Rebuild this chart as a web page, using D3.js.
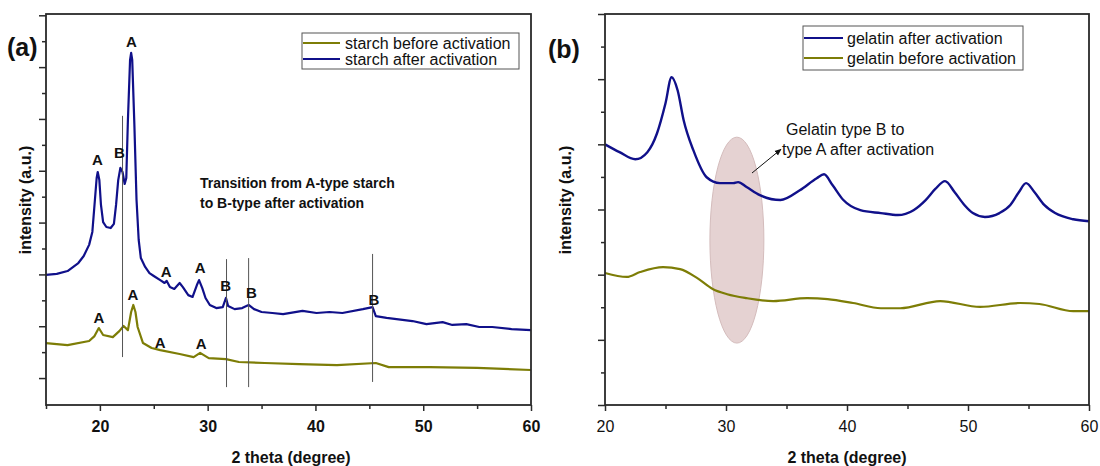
<!DOCTYPE html>
<html><head><meta charset="utf-8">
<script src="https://cdn.jsdelivr.net/npm/d3@7"></script>
<style>
html,body{margin:0;padding:0;background:#fff;}
svg text{font-family:"Liberation Sans",Arial,sans-serif;}
</style></head>
<body><svg id="c" width="1100" height="466"></svg>
<script>
// ---------- DATA ----------
// Panel (a): starch XRD
const starchAfterTheta = [15,16,17,18,18.5,19,19.3,19.5,19.7,19.8,19.95,20.1,20.3,20.6,21,21.3,21.5,21.7,21.9,22.1,22.3,22.45,22.6,22.8,22.9,23,23.2,23.4,23.6,23.8,24.2,24.6,25,25.6,26,26.2,26.5,26.9,27.4,27.7,28.2,28.6,29,29.2,29.5,29.8,30.2,30.8,31.4,31.7,31.9,32.5,33.2,33.8,34.3,35,36,37,38.8,40.1,41.3,42.5,44.4,45.3,45.6,46.6,49,50.3,51.8,52.7,54,55.2,56.4,58.2,60];
const starchAfterI = [398,402,413,444,471,514,564,668,772,795,764,668,602,583,579,595,668,764,811,795,749,772,996,1228,1255,1228,977,687,533,463,429,405,394,378,367,375,351,344,367,351,320,313,359,378,347,309,282,270,274,309,278,266,270,282,266,255,251,247,259,251,255,251,266,274,239,232,220,208,216,205,208,197,197,189,185];
const starchBeforeTheta = [15,17,19,19.5,19.9,20.3,21.2,21.8,22.2,22.6,22.9,23.1,23.3,23.5,24,24.8,25.6,27.4,28.7,29.3,30.1,31.7,32.9,35.3,38.5,42,45.6,46.8,50.6,55,60];
const starchBeforeI = [135,127,143,162,193,166,158,181,201,185,255,282,255,197,135,116,108,93,81,97,77,73,62,58,54,50,58,42,42,39,31];
const starchSeries = ["starch before activation","starch after activation"];
const refLineTheta = [22.1,31.75,33.8,45.3];
const refLineTop = [1012,459,463,479];
const refLineBottom = [81,-35,-35,-15];
const peakText = ["A","B","A","A","A","B","B","B","A","A","A","A"];
const peakTheta = [19.77,21.81,22.92,26.16,29.31,31.67,34.07,45.42,19.91,23.06,25.6,29.4];
const peakI = [822,849,1278,390,405,336,309,282,212,301,116,112];
const starchNote = ["Transition from A-type starch","to B-type after activation"];

// Panel (b): gelatin XRD
const gelAfterTheta = [20,21.2,22.5,23.5,24.3,25,25.5,26,26.5,27.3,28.4,29.5,30.6,31,31.7,32.8,34.5,36.1,37.5,38.1,38.8,39.7,41.1,42.8,44.2,45.5,46.5,47.3,48.1,48.9,49.7,50.4,51.4,52.6,53.5,54.2,54.8,55.5,56.3,57.2,58.7,60];
const gelAfterI = [800,776,754,776,834,926,1006,966,874,782,699,681,681,684,669,644,629,659,696,708,675,629,598,589,583,598,629,663,687,653,614,589,577,589,614,653,681,653,614,589,570,564];
const gelBeforeTheta = [20,21.8,22.9,24.8,26.2,27.6,28.9,30.1,31.7,33.9,36.7,38.4,40.5,42.8,44.4,47.7,51,54.3,55.9,58.7,60];
const gelBeforeI = [405,393,408,423,417,390,356,340,328,319,328,325,313,297,297,319,301,313,310,288,288];
const gelSeries = ["gelatin after activation","gelatin before activation"];
const gelNote = ["Gelatin type B to","type A after activation"];

const xTickLabels = [20,30,40,50,60];

// ---------- DRAW ----------
const BLUE = "#10108a", OLIVE = "#7d7d06", FRAME = "#2a2a2a";
const svg = d3.select("#c");

function frame(g, x, y, bold, minorX) {
  const [x0,x1] = x.range(), [y0,y1] = y.range();
  const ax = d3.axisBottom(x).tickValues(xTickLabels).tickSize(6).tickFormat(d3.format("d"));
  const gx = g.append("g").attr("transform",`translate(0,${y0})`).call(ax);
  gx.select(".domain").remove();
  gx.selectAll("line").attr("stroke",FRAME).attr("stroke-width",1.5);
  gx.selectAll("text").attr("font-size",16).attr("font-weight",bold?"bold":"normal").attr("fill","#111").attr("dy","1.15em").attr("font-family","Liberation Sans, Arial, sans-serif");
  const gxm = g.append("g").attr("transform",`translate(0,${y0})`).call(d3.axisBottom(x).tickValues(minorX).tickSize(4).tickFormat(""));
  gxm.select(".domain").remove();
  gxm.selectAll("line").attr("stroke",FRAME).attr("stroke-width",1.5);
}
function yTicks(g, x, y, major, minor) {
  const x0 = x.range()[0];
  const a = g.append("g").attr("transform",`translate(${x0},0)`).call(d3.axisLeft(y).tickValues(major).tickSize(7).tickFormat(""));
  a.select(".domain").remove();
  a.selectAll("line").attr("stroke",FRAME).attr("stroke-width",1.5);
  const b = g.append("g").attr("transform",`translate(${x0},0)`).call(d3.axisLeft(y).tickValues(minor).tickSize(4).tickFormat(""));
  b.select(".domain").remove();
  b.selectAll("line").attr("stroke",FRAME).attr("stroke-width",1.5);
}
function box(g, x, y) {
  const [x0,x1] = x.range(), [y0,y1] = y.range();
  g.append("rect").attr("x",x0).attr("y",y1).attr("width",x1-x0).attr("height",y0-y1)
    .attr("fill","none").attr("stroke",FRAME).attr("stroke-width",1.8);
}

// ----- Panel A -----
const xa = d3.scaleLinear().domain([15,60]).range([46,531]);
const ya = d3.scaleLinear().domain([-104,1405]).range([405,14]);
const ga = svg.append("g");
const lineA = (th, I) => d3.line().x((d,i)=>xa(th[i])).y((d,i)=>ya(I[i]))(I);

ga.append("path").attr("d",lineA(starchBeforeTheta,starchBeforeI)).attr("fill","none").attr("stroke",OLIVE).attr("stroke-width",2.2).attr("stroke-linejoin","round");
ga.append("path").attr("d",lineA(starchAfterTheta,starchAfterI)).attr("fill","none").attr("stroke",BLUE).attr("stroke-width",2.2).attr("stroke-linejoin","round");

refLineTheta.forEach((t,i)=>{
  ga.append("line").attr("x1",xa(t)).attr("x2",xa(t)).attr("y1",ya(refLineTop[i])).attr("y2",ya(refLineBottom[i]))
    .attr("stroke","#555").attr("stroke-width",1);
});
peakText.forEach((t,i)=>{
  ga.append("text").attr("x",xa(peakTheta[i])).attr("y",ya(peakI[i])).attr("text-anchor","middle")
    .attr("font-size",15).attr("font-weight","bold").attr("fill","#111").text(t);
});
starchNote.forEach((t,i)=>{
  ga.append("text").attr("x",200).attr("y",188+i*20).attr("font-size",14).attr("font-weight","bold").attr("fill","#111").text(t);
});

frame(ga, xa, ya, true, [15,25,35,45,55]);
yTicks(ga, xa, ya, d3.range(0,1401,200), d3.range(100,1301,200));
box(ga, xa, ya);

// legend a
const la = ga.append("g");
la.append("rect").attr("x",302).attr("y",33).attr("width",217).attr("height",36).attr("fill","#fff").attr("stroke","#555").attr("stroke-width",1);
[OLIVE,BLUE].forEach((c,i)=>{
  la.append("line").attr("x1",303).attr("x2",340).attr("y1",43+i*16).attr("y2",43+i*16).attr("stroke",c).attr("stroke-width",2);
  la.append("text").attr("x",345).attr("y",43+i*16).attr("dy","0.36em").attr("font-size",16).attr("fill","#111").text(starchSeries[i]);
});

ga.append("text").attr("x",7).attr("y",56).attr("font-size",25).attr("font-weight","bold").attr("fill","#111").text("(a)");
ga.append("text").attr("transform","translate(31,200) rotate(-90)").attr("text-anchor","middle").attr("font-size",16).attr("font-weight","bold").attr("fill","#111").text("intensity (a.u.)");
ga.append("text").attr("x",291).attr("y",463).attr("text-anchor","middle").attr("font-size",16).attr("font-weight","bold").attr("fill","#111").text("2 theta (degree)");

// ----- Panel B -----
const xb = d3.scaleLinear().domain([20,60]).range([605,1089]);
const yb = d3.scaleLinear().domain([0,1200]).range([405,14]);
const gb = svg.append("g");
const lineB = (th, I) => d3.line().curve(d3.curveMonotoneX).x((d,i)=>xb(th[i])).y((d,i)=>yb(I[i]))(I);

// ellipse highlight
gb.append("ellipse").attr("cx",xb(30.9)).attr("cy",yb(506)).attr("rx",xb(30.9)-xb(28.67)).attr("ry",yb(190)-yb(506))
  .attr("fill","#e5d2d2").attr("stroke","#d4bcbc").attr("stroke-width",1);

gb.append("path").attr("d",lineB(gelBeforeTheta,gelBeforeI)).attr("fill","none").attr("stroke",OLIVE).attr("stroke-width",2.2);
gb.append("path").attr("d",lineB(gelAfterTheta,gelAfterI)).attr("fill","none").attr("stroke",BLUE).attr("stroke-width",2.4);

// arrow
const defs = svg.append("defs");
defs.append("marker").attr("id","ah").attr("viewBox","0 0 10 10").attr("refX",9).attr("refY",5)
  .attr("markerWidth",7).attr("markerHeight",7).attr("orient","auto")
  .append("path").attr("d","M0,1 L10,5 L0,9 Z").attr("fill","#111");
gb.append("line").attr("x1",xb(32.15)).attr("y1",yb(712)).attr("x2",xb(34.55)).attr("y2",yb(785))
  .attr("stroke","#111").attr("stroke-width",1).attr("marker-end","url(#ah)");
gelNote.forEach((t,i)=>{
  gb.append("text").attr("x",i===0?786:782).attr("y",135+i*20).attr("font-size",16).attr("fill","#111").text(t);
});

frame(gb, xb, yb, false, [25,35,45,55]);
yTicks(gb, xb, yb, d3.range(0,1201,200), d3.range(100,1101,200));
box(gb, xb, yb);

// legend b
const lb = gb.append("g");
lb.append("rect").attr("x",803).attr("y",26).attr("width",220).attr("height",44).attr("fill","#fff").attr("stroke","#555").attr("stroke-width",1);
[BLUE,OLIVE].forEach((c,i)=>{
  lb.append("line").attr("x1",804).attr("x2",843).attr("y1",38+i*20).attr("y2",38+i*20).attr("stroke",c).attr("stroke-width",2);
  lb.append("text").attr("x",847).attr("y",38+i*20).attr("dy","0.36em").attr("font-size",16).attr("fill","#111").text(gelSeries[i]);
});

gb.append("text").attr("x",548).attr("y",58).attr("font-size",25).attr("font-weight","bold").attr("fill","#111").text("(b)");
gb.append("text").attr("transform","translate(571,200) rotate(-90)").attr("text-anchor","middle").attr("font-size",16).attr("font-weight","bold").attr("fill","#111").text("intensity (a.u.)");
gb.append("text").attr("x",847).attr("y",463).attr("text-anchor","middle").attr("font-size",16).attr("font-weight","bold").attr("fill","#111").text("2 theta (degree)");
</script></body></html>
